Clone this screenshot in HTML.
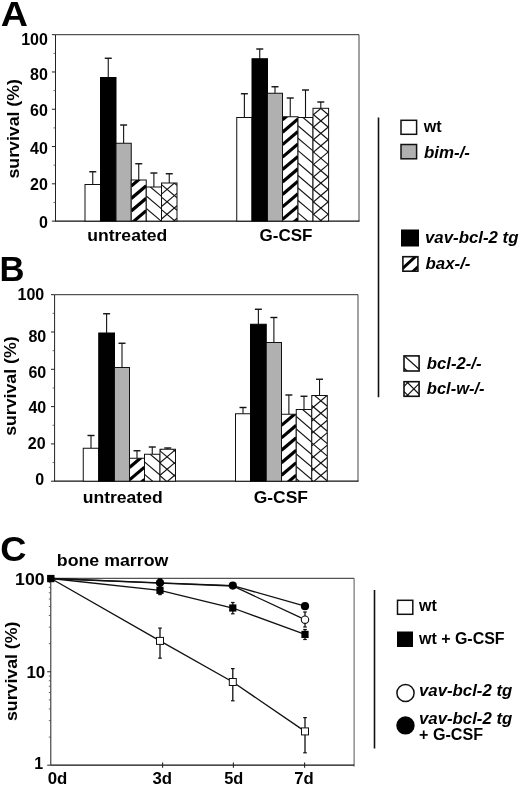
<!DOCTYPE html>
<html lang="en"><head><meta charset="utf-8"><title>Figure</title>
<style>html,body{margin:0;padding:0;background:#fff}svg{display:block;will-change:transform;opacity:.999}</style>
</head><body>
<svg width="520" height="787" viewBox="0 0 520 787" font-family="Liberation Sans, Arial, Helvetica, sans-serif" font-weight="bold" fill="#000">
<rect width="520" height="787" fill="#fff"/>
<line x1="55.50" y1="34.70" x2="359.00" y2="34.70" stroke="#2a2a2a" stroke-width="1" />
<line x1="359.00" y1="34.70" x2="359.00" y2="221.10" stroke="#444" stroke-width="1" />
<line x1="55.50" y1="34.70" x2="55.50" y2="221.10" stroke="#222" stroke-width="1" />
<line x1="55.00" y1="221.10" x2="359.50" y2="221.10" stroke="#111" stroke-width="1.2" />
<line x1="51.90" y1="221.10" x2="55.50" y2="221.10" stroke="#222" stroke-width="1" />
<line x1="53.50" y1="202.46" x2="55.50" y2="202.46" stroke="#444" stroke-width="0.8" />
<line x1="51.90" y1="183.82" x2="55.50" y2="183.82" stroke="#222" stroke-width="1" />
<line x1="53.50" y1="165.18" x2="55.50" y2="165.18" stroke="#444" stroke-width="0.8" />
<line x1="51.90" y1="146.54" x2="55.50" y2="146.54" stroke="#222" stroke-width="1" />
<line x1="53.50" y1="127.90" x2="55.50" y2="127.90" stroke="#444" stroke-width="0.8" />
<line x1="51.90" y1="109.26" x2="55.50" y2="109.26" stroke="#222" stroke-width="1" />
<line x1="53.50" y1="90.62" x2="55.50" y2="90.62" stroke="#444" stroke-width="0.8" />
<line x1="51.90" y1="71.98" x2="55.50" y2="71.98" stroke="#222" stroke-width="1" />
<line x1="53.50" y1="53.34" x2="55.50" y2="53.34" stroke="#444" stroke-width="0.8" />
<line x1="51.90" y1="34.70" x2="55.50" y2="34.70" stroke="#222" stroke-width="1" />
<text x="47.90" y="44.85" font-size="16" text-anchor="end" >100</text>
<text x="47.90" y="79.85" font-size="16" text-anchor="end" >80</text>
<text x="47.90" y="115.50" font-size="16" text-anchor="end" >60</text>
<text x="47.90" y="154.20" font-size="16" text-anchor="end" >40</text>
<text x="47.90" y="190.10" font-size="16" text-anchor="end" >20</text>
<text x="47.90" y="227.80" font-size="16" text-anchor="end" >0</text>
<text x="0.00" y="0.00" font-size="17" text-anchor="middle" textLength="99.5" lengthAdjust="spacingAndGlyphs" transform="translate(19.1,128.8) rotate(-90)">survival (%)</text>
<line x1="92.75" y1="171.75" x2="92.75" y2="184.50" stroke="#111" stroke-width="1.1" />
<line x1="89.25" y1="171.75" x2="96.25" y2="171.75" stroke="#111" stroke-width="1.4" />
<rect x="85.00" y="184.50" width="15.50" height="36.60" fill="#fff" stroke="#111" stroke-width="1"/>
<line x1="108.25" y1="58.25" x2="108.25" y2="77.50" stroke="#111" stroke-width="1.1" />
<line x1="104.75" y1="58.25" x2="111.75" y2="58.25" stroke="#111" stroke-width="1.4" />
<rect x="100.50" y="77.50" width="15.50" height="143.60" fill="#000" stroke="#000" stroke-width="1"/>
<line x1="123.62" y1="125.00" x2="123.62" y2="143.25" stroke="#111" stroke-width="1.1" />
<line x1="120.12" y1="125.00" x2="127.12" y2="125.00" stroke="#111" stroke-width="1.4" />
<rect x="116.00" y="143.25" width="15.25" height="77.85" fill="#b0b0b0" stroke="#111" stroke-width="1"/>
<line x1="138.75" y1="163.75" x2="138.75" y2="180.00" stroke="#111" stroke-width="1.1" />
<line x1="135.25" y1="163.75" x2="142.25" y2="163.75" stroke="#111" stroke-width="1.4" />
<clipPath id="c1"><rect x="131.25" y="180.00" width="15.00" height="41.10"/></clipPath>
<rect x="131.25" y="180.00" width="15.00" height="41.10" fill="#fff"/>
<g clip-path="url(#c1)">
<line x1="131.25" y1="148.70" x2="146.25" y2="135.95" stroke="#000" stroke-width="3.2" />
<line x1="131.25" y1="161.15" x2="146.25" y2="148.40" stroke="#000" stroke-width="3.2" />
<line x1="131.25" y1="173.60" x2="146.25" y2="160.85" stroke="#000" stroke-width="3.2" />
<line x1="131.25" y1="186.05" x2="146.25" y2="173.30" stroke="#000" stroke-width="3.2" />
<line x1="131.25" y1="198.50" x2="146.25" y2="185.75" stroke="#000" stroke-width="3.2" />
<line x1="131.25" y1="210.95" x2="146.25" y2="198.20" stroke="#000" stroke-width="3.2" />
<line x1="131.25" y1="223.40" x2="146.25" y2="210.65" stroke="#000" stroke-width="3.2" />
<line x1="131.25" y1="235.85" x2="146.25" y2="223.10" stroke="#000" stroke-width="3.2" />
<line x1="131.25" y1="248.30" x2="146.25" y2="235.55" stroke="#000" stroke-width="3.2" />
</g>
<rect x="131.25" y="180.00" width="15.00" height="41.10" fill="none" stroke="#111" stroke-width="1"/>
<line x1="153.88" y1="173.00" x2="153.88" y2="187.00" stroke="#111" stroke-width="1.1" />
<line x1="150.38" y1="173.00" x2="157.38" y2="173.00" stroke="#111" stroke-width="1.4" />
<clipPath id="c2"><rect x="146.25" y="187.00" width="15.25" height="34.10"/></clipPath>
<rect x="146.25" y="187.00" width="15.25" height="34.10" fill="#fff"/>
<g clip-path="url(#c2)">
<line x1="146.25" y1="158.56" x2="161.50" y2="171.53" stroke="#111" stroke-width="1.15" />
<line x1="146.25" y1="171.01" x2="161.50" y2="183.97" stroke="#111" stroke-width="1.15" />
<line x1="146.25" y1="183.46" x2="161.50" y2="196.43" stroke="#111" stroke-width="1.15" />
<line x1="146.25" y1="195.91" x2="161.50" y2="208.88" stroke="#111" stroke-width="1.15" />
<line x1="146.25" y1="208.36" x2="161.50" y2="221.33" stroke="#111" stroke-width="1.15" />
<line x1="146.25" y1="220.81" x2="161.50" y2="233.78" stroke="#111" stroke-width="1.15" />
<line x1="146.25" y1="233.26" x2="161.50" y2="246.22" stroke="#111" stroke-width="1.15" />
<line x1="146.25" y1="245.71" x2="161.50" y2="258.68" stroke="#111" stroke-width="1.15" />
</g>
<rect x="146.25" y="187.00" width="15.25" height="34.10" fill="none" stroke="#111" stroke-width="1"/>
<line x1="169.25" y1="173.75" x2="169.25" y2="183.00" stroke="#111" stroke-width="1.1" />
<line x1="165.75" y1="173.75" x2="172.75" y2="173.75" stroke="#111" stroke-width="1.4" />
<clipPath id="c3"><rect x="161.50" y="183.00" width="15.50" height="38.10"/></clipPath>
<rect x="161.50" y="183.00" width="15.50" height="38.10" fill="#fff"/>
<g clip-path="url(#c3)">
<line x1="161.50" y1="156.72" x2="177.00" y2="143.55" stroke="#111" stroke-width="1.15" />
<line x1="161.50" y1="169.17" x2="177.00" y2="156.00" stroke="#111" stroke-width="1.15" />
<line x1="161.50" y1="181.62" x2="177.00" y2="168.45" stroke="#111" stroke-width="1.15" />
<line x1="161.50" y1="194.07" x2="177.00" y2="180.90" stroke="#111" stroke-width="1.15" />
<line x1="161.50" y1="206.52" x2="177.00" y2="193.35" stroke="#111" stroke-width="1.15" />
<line x1="161.50" y1="218.97" x2="177.00" y2="205.80" stroke="#111" stroke-width="1.15" />
<line x1="161.50" y1="231.42" x2="177.00" y2="218.25" stroke="#111" stroke-width="1.15" />
<line x1="161.50" y1="243.87" x2="177.00" y2="230.70" stroke="#111" stroke-width="1.15" />
<line x1="161.50" y1="159.77" x2="177.00" y2="172.95" stroke="#111" stroke-width="1.15" />
<line x1="161.50" y1="172.22" x2="177.00" y2="185.40" stroke="#111" stroke-width="1.15" />
<line x1="161.50" y1="184.68" x2="177.00" y2="197.85" stroke="#111" stroke-width="1.15" />
<line x1="161.50" y1="197.12" x2="177.00" y2="210.30" stroke="#111" stroke-width="1.15" />
<line x1="161.50" y1="209.57" x2="177.00" y2="222.75" stroke="#111" stroke-width="1.15" />
<line x1="161.50" y1="222.02" x2="177.00" y2="235.20" stroke="#111" stroke-width="1.15" />
<line x1="161.50" y1="234.47" x2="177.00" y2="247.65" stroke="#111" stroke-width="1.15" />
<line x1="161.50" y1="246.93" x2="177.00" y2="260.10" stroke="#111" stroke-width="1.15" />
</g>
<rect x="161.50" y="183.00" width="15.50" height="38.10" fill="none" stroke="#111" stroke-width="1"/>
<line x1="244.38" y1="93.75" x2="244.38" y2="117.50" stroke="#111" stroke-width="1.1" />
<line x1="240.88" y1="93.75" x2="247.88" y2="93.75" stroke="#111" stroke-width="1.4" />
<rect x="236.75" y="117.50" width="15.25" height="103.60" fill="#fff" stroke="#111" stroke-width="1"/>
<line x1="259.75" y1="49.00" x2="259.75" y2="58.75" stroke="#111" stroke-width="1.1" />
<line x1="256.25" y1="49.00" x2="263.25" y2="49.00" stroke="#111" stroke-width="1.4" />
<rect x="252.00" y="58.75" width="15.50" height="162.35" fill="#000" stroke="#000" stroke-width="1"/>
<line x1="275.00" y1="86.75" x2="275.00" y2="93.25" stroke="#111" stroke-width="1.1" />
<line x1="271.50" y1="86.75" x2="278.50" y2="86.75" stroke="#111" stroke-width="1.4" />
<rect x="267.50" y="93.25" width="15.00" height="127.85" fill="#b0b0b0" stroke="#111" stroke-width="1"/>
<line x1="290.25" y1="98.00" x2="290.25" y2="116.75" stroke="#111" stroke-width="1.1" />
<line x1="286.75" y1="98.00" x2="293.75" y2="98.00" stroke="#111" stroke-width="1.4" />
<clipPath id="c4"><rect x="282.50" y="116.75" width="15.50" height="104.35"/></clipPath>
<rect x="282.50" y="116.75" width="15.50" height="104.35" fill="#fff"/>
<g clip-path="url(#c4)">
<line x1="282.50" y1="94.83" x2="298.00" y2="81.66" stroke="#000" stroke-width="3.2" />
<line x1="282.50" y1="107.28" x2="298.00" y2="94.11" stroke="#000" stroke-width="3.2" />
<line x1="282.50" y1="119.73" x2="298.00" y2="106.56" stroke="#000" stroke-width="3.2" />
<line x1="282.50" y1="132.18" x2="298.00" y2="119.01" stroke="#000" stroke-width="3.2" />
<line x1="282.50" y1="144.63" x2="298.00" y2="131.46" stroke="#000" stroke-width="3.2" />
<line x1="282.50" y1="157.08" x2="298.00" y2="143.91" stroke="#000" stroke-width="3.2" />
<line x1="282.50" y1="169.53" x2="298.00" y2="156.36" stroke="#000" stroke-width="3.2" />
<line x1="282.50" y1="181.98" x2="298.00" y2="168.81" stroke="#000" stroke-width="3.2" />
<line x1="282.50" y1="194.43" x2="298.00" y2="181.26" stroke="#000" stroke-width="3.2" />
<line x1="282.50" y1="206.88" x2="298.00" y2="193.71" stroke="#000" stroke-width="3.2" />
<line x1="282.50" y1="219.33" x2="298.00" y2="206.16" stroke="#000" stroke-width="3.2" />
<line x1="282.50" y1="231.78" x2="298.00" y2="218.61" stroke="#000" stroke-width="3.2" />
<line x1="282.50" y1="244.23" x2="298.00" y2="231.06" stroke="#000" stroke-width="3.2" />
</g>
<rect x="282.50" y="116.75" width="15.50" height="104.35" fill="none" stroke="#111" stroke-width="1"/>
<line x1="305.50" y1="90.00" x2="305.50" y2="117.50" stroke="#111" stroke-width="1.1" />
<line x1="302.00" y1="90.00" x2="309.00" y2="90.00" stroke="#111" stroke-width="1.4" />
<clipPath id="c5"><rect x="298.00" y="117.50" width="15.00" height="103.60"/></clipPath>
<rect x="298.00" y="117.50" width="15.00" height="103.60" fill="#fff"/>
<g clip-path="url(#c5)">
<line x1="298.00" y1="88.35" x2="313.00" y2="101.10" stroke="#111" stroke-width="1.15" />
<line x1="298.00" y1="100.80" x2="313.00" y2="113.55" stroke="#111" stroke-width="1.15" />
<line x1="298.00" y1="113.25" x2="313.00" y2="126.00" stroke="#111" stroke-width="1.15" />
<line x1="298.00" y1="125.70" x2="313.00" y2="138.45" stroke="#111" stroke-width="1.15" />
<line x1="298.00" y1="138.15" x2="313.00" y2="150.90" stroke="#111" stroke-width="1.15" />
<line x1="298.00" y1="150.60" x2="313.00" y2="163.35" stroke="#111" stroke-width="1.15" />
<line x1="298.00" y1="163.05" x2="313.00" y2="175.80" stroke="#111" stroke-width="1.15" />
<line x1="298.00" y1="175.50" x2="313.00" y2="188.25" stroke="#111" stroke-width="1.15" />
<line x1="298.00" y1="187.95" x2="313.00" y2="200.70" stroke="#111" stroke-width="1.15" />
<line x1="298.00" y1="200.40" x2="313.00" y2="213.15" stroke="#111" stroke-width="1.15" />
<line x1="298.00" y1="212.85" x2="313.00" y2="225.60" stroke="#111" stroke-width="1.15" />
<line x1="298.00" y1="225.30" x2="313.00" y2="238.05" stroke="#111" stroke-width="1.15" />
<line x1="298.00" y1="237.75" x2="313.00" y2="250.50" stroke="#111" stroke-width="1.15" />
<line x1="298.00" y1="250.20" x2="313.00" y2="262.95" stroke="#111" stroke-width="1.15" />
</g>
<rect x="298.00" y="117.50" width="15.00" height="103.60" fill="none" stroke="#111" stroke-width="1"/>
<line x1="320.80" y1="102.00" x2="320.80" y2="108.30" stroke="#111" stroke-width="1.1" />
<line x1="317.30" y1="102.00" x2="324.30" y2="102.00" stroke="#111" stroke-width="1.4" />
<clipPath id="c6"><rect x="313.00" y="108.30" width="15.60" height="112.80"/></clipPath>
<rect x="313.00" y="108.30" width="15.60" height="112.80" fill="#fff"/>
<g clip-path="url(#c6)">
<line x1="313.00" y1="77.75" x2="328.60" y2="64.49" stroke="#111" stroke-width="1.15" />
<line x1="313.00" y1="90.20" x2="328.60" y2="76.94" stroke="#111" stroke-width="1.15" />
<line x1="313.00" y1="102.65" x2="328.60" y2="89.39" stroke="#111" stroke-width="1.15" />
<line x1="313.00" y1="115.10" x2="328.60" y2="101.84" stroke="#111" stroke-width="1.15" />
<line x1="313.00" y1="127.55" x2="328.60" y2="114.29" stroke="#111" stroke-width="1.15" />
<line x1="313.00" y1="140.00" x2="328.60" y2="126.74" stroke="#111" stroke-width="1.15" />
<line x1="313.00" y1="152.45" x2="328.60" y2="139.19" stroke="#111" stroke-width="1.15" />
<line x1="313.00" y1="164.90" x2="328.60" y2="151.64" stroke="#111" stroke-width="1.15" />
<line x1="313.00" y1="177.35" x2="328.60" y2="164.09" stroke="#111" stroke-width="1.15" />
<line x1="313.00" y1="189.80" x2="328.60" y2="176.54" stroke="#111" stroke-width="1.15" />
<line x1="313.00" y1="202.25" x2="328.60" y2="188.99" stroke="#111" stroke-width="1.15" />
<line x1="313.00" y1="214.70" x2="328.60" y2="201.44" stroke="#111" stroke-width="1.15" />
<line x1="313.00" y1="227.15" x2="328.60" y2="213.89" stroke="#111" stroke-width="1.15" />
<line x1="313.00" y1="239.60" x2="328.60" y2="226.34" stroke="#111" stroke-width="1.15" />
<line x1="313.00" y1="252.05" x2="328.60" y2="238.79" stroke="#111" stroke-width="1.15" />
<line x1="313.00" y1="76.90" x2="328.60" y2="90.16" stroke="#111" stroke-width="1.15" />
<line x1="313.00" y1="89.35" x2="328.60" y2="102.61" stroke="#111" stroke-width="1.15" />
<line x1="313.00" y1="101.80" x2="328.60" y2="115.06" stroke="#111" stroke-width="1.15" />
<line x1="313.00" y1="114.25" x2="328.60" y2="127.51" stroke="#111" stroke-width="1.15" />
<line x1="313.00" y1="126.70" x2="328.60" y2="139.96" stroke="#111" stroke-width="1.15" />
<line x1="313.00" y1="139.15" x2="328.60" y2="152.41" stroke="#111" stroke-width="1.15" />
<line x1="313.00" y1="151.60" x2="328.60" y2="164.86" stroke="#111" stroke-width="1.15" />
<line x1="313.00" y1="164.05" x2="328.60" y2="177.31" stroke="#111" stroke-width="1.15" />
<line x1="313.00" y1="176.50" x2="328.60" y2="189.76" stroke="#111" stroke-width="1.15" />
<line x1="313.00" y1="188.95" x2="328.60" y2="202.21" stroke="#111" stroke-width="1.15" />
<line x1="313.00" y1="201.40" x2="328.60" y2="214.66" stroke="#111" stroke-width="1.15" />
<line x1="313.00" y1="213.85" x2="328.60" y2="227.11" stroke="#111" stroke-width="1.15" />
<line x1="313.00" y1="226.30" x2="328.60" y2="239.56" stroke="#111" stroke-width="1.15" />
<line x1="313.00" y1="238.75" x2="328.60" y2="252.01" stroke="#111" stroke-width="1.15" />
<line x1="313.00" y1="251.20" x2="328.60" y2="264.46" stroke="#111" stroke-width="1.15" />
</g>
<rect x="313.00" y="108.30" width="15.60" height="112.80" fill="none" stroke="#111" stroke-width="1"/>
<text x="87.20" y="241.20" font-size="16.5" text-anchor="start" textLength="80.1" lengthAdjust="spacingAndGlyphs" >untreated</text>
<text x="259.50" y="241.20" font-size="16.5" text-anchor="start" textLength="53.0" lengthAdjust="spacingAndGlyphs" >G-CSF</text>
<text x="0.70" y="26.20" font-size="35.6" text-anchor="start" textLength="27.2" lengthAdjust="spacingAndGlyphs" >A</text>
<line x1="54.60" y1="294.70" x2="358.00" y2="294.70" stroke="#2a2a2a" stroke-width="1" />
<line x1="358.00" y1="294.70" x2="358.00" y2="481.20" stroke="#444" stroke-width="1" />
<line x1="54.60" y1="294.70" x2="54.60" y2="481.20" stroke="#222" stroke-width="1" />
<line x1="54.10" y1="481.20" x2="358.50" y2="481.20" stroke="#111" stroke-width="1.2" />
<line x1="51.00" y1="481.20" x2="54.60" y2="481.20" stroke="#222" stroke-width="1" />
<line x1="52.60" y1="462.55" x2="54.60" y2="462.55" stroke="#444" stroke-width="0.8" />
<line x1="51.00" y1="443.90" x2="54.60" y2="443.90" stroke="#222" stroke-width="1" />
<line x1="52.60" y1="425.25" x2="54.60" y2="425.25" stroke="#444" stroke-width="0.8" />
<line x1="51.00" y1="406.60" x2="54.60" y2="406.60" stroke="#222" stroke-width="1" />
<line x1="52.60" y1="387.95" x2="54.60" y2="387.95" stroke="#444" stroke-width="0.8" />
<line x1="51.00" y1="369.30" x2="54.60" y2="369.30" stroke="#222" stroke-width="1" />
<line x1="52.60" y1="350.65" x2="54.60" y2="350.65" stroke="#444" stroke-width="0.8" />
<line x1="51.00" y1="332.00" x2="54.60" y2="332.00" stroke="#222" stroke-width="1" />
<line x1="52.60" y1="313.35" x2="54.60" y2="313.35" stroke="#444" stroke-width="0.8" />
<line x1="51.00" y1="294.70" x2="54.60" y2="294.70" stroke="#222" stroke-width="1" />
<text x="44.20" y="300.10" font-size="16" text-anchor="end" >100</text>
<text x="46.20" y="341.50" font-size="16" text-anchor="end" >80</text>
<text x="46.20" y="377.60" font-size="16" text-anchor="end" >60</text>
<text x="46.20" y="413.00" font-size="16" text-anchor="end" >40</text>
<text x="45.60" y="448.70" font-size="16" text-anchor="end" >20</text>
<text x="44.20" y="484.60" font-size="16" text-anchor="end" >0</text>
<text x="0.00" y="0.00" font-size="17" text-anchor="middle" textLength="99.5" lengthAdjust="spacingAndGlyphs" transform="translate(16.0,386.1) rotate(-90)">survival (%)</text>
<line x1="91.00" y1="435.50" x2="91.00" y2="448.25" stroke="#111" stroke-width="1.1" />
<line x1="87.50" y1="435.50" x2="94.50" y2="435.50" stroke="#111" stroke-width="1.4" />
<rect x="83.25" y="448.25" width="15.50" height="32.95" fill="#fff" stroke="#111" stroke-width="1"/>
<line x1="106.62" y1="313.75" x2="106.62" y2="333.00" stroke="#111" stroke-width="1.1" />
<line x1="103.12" y1="313.75" x2="110.12" y2="313.75" stroke="#111" stroke-width="1.4" />
<rect x="98.75" y="333.00" width="15.75" height="148.20" fill="#000" stroke="#000" stroke-width="1"/>
<line x1="122.00" y1="343.25" x2="122.00" y2="367.50" stroke="#111" stroke-width="1.1" />
<line x1="118.50" y1="343.25" x2="125.50" y2="343.25" stroke="#111" stroke-width="1.4" />
<rect x="114.50" y="367.50" width="15.00" height="113.70" fill="#b0b0b0" stroke="#111" stroke-width="1"/>
<line x1="137.00" y1="450.75" x2="137.00" y2="458.25" stroke="#111" stroke-width="1.1" />
<line x1="133.50" y1="450.75" x2="140.50" y2="450.75" stroke="#111" stroke-width="1.4" />
<clipPath id="c7"><rect x="129.50" y="458.25" width="15.00" height="22.95"/></clipPath>
<rect x="129.50" y="458.25" width="15.00" height="22.95" fill="#fff"/>
<g clip-path="url(#c7)">
<line x1="129.50" y1="430.09" x2="144.50" y2="417.34" stroke="#000" stroke-width="3.2" />
<line x1="129.50" y1="442.54" x2="144.50" y2="429.79" stroke="#000" stroke-width="3.2" />
<line x1="129.50" y1="454.99" x2="144.50" y2="442.24" stroke="#000" stroke-width="3.2" />
<line x1="129.50" y1="467.44" x2="144.50" y2="454.69" stroke="#000" stroke-width="3.2" />
<line x1="129.50" y1="479.89" x2="144.50" y2="467.14" stroke="#000" stroke-width="3.2" />
<line x1="129.50" y1="492.34" x2="144.50" y2="479.59" stroke="#000" stroke-width="3.2" />
<line x1="129.50" y1="504.79" x2="144.50" y2="492.04" stroke="#000" stroke-width="3.2" />
</g>
<rect x="129.50" y="458.25" width="15.00" height="22.95" fill="none" stroke="#111" stroke-width="1"/>
<line x1="152.25" y1="447.00" x2="152.25" y2="454.25" stroke="#111" stroke-width="1.1" />
<line x1="148.75" y1="447.00" x2="155.75" y2="447.00" stroke="#111" stroke-width="1.4" />
<clipPath id="c8"><rect x="144.50" y="454.25" width="15.50" height="26.95"/></clipPath>
<rect x="144.50" y="454.25" width="15.50" height="26.95" fill="#fff"/>
<g clip-path="url(#c8)">
<line x1="144.50" y1="424.52" x2="160.00" y2="437.70" stroke="#111" stroke-width="1.15" />
<line x1="144.50" y1="436.98" x2="160.00" y2="450.15" stroke="#111" stroke-width="1.15" />
<line x1="144.50" y1="449.43" x2="160.00" y2="462.60" stroke="#111" stroke-width="1.15" />
<line x1="144.50" y1="461.88" x2="160.00" y2="475.05" stroke="#111" stroke-width="1.15" />
<line x1="144.50" y1="474.32" x2="160.00" y2="487.50" stroke="#111" stroke-width="1.15" />
<line x1="144.50" y1="486.77" x2="160.00" y2="499.95" stroke="#111" stroke-width="1.15" />
<line x1="144.50" y1="499.22" x2="160.00" y2="512.40" stroke="#111" stroke-width="1.15" />
<line x1="144.50" y1="511.67" x2="160.00" y2="524.85" stroke="#111" stroke-width="1.15" />
</g>
<rect x="144.50" y="454.25" width="15.50" height="26.95" fill="none" stroke="#111" stroke-width="1"/>
<line x1="167.75" y1="448.00" x2="167.75" y2="449.25" stroke="#111" stroke-width="1.1" />
<line x1="164.25" y1="448.00" x2="171.25" y2="448.00" stroke="#111" stroke-width="1.4" />
<clipPath id="c9"><rect x="160.00" y="449.25" width="15.50" height="31.95"/></clipPath>
<rect x="160.00" y="449.25" width="15.50" height="31.95" fill="#fff"/>
<g clip-path="url(#c9)">
<line x1="160.00" y1="425.45" x2="175.50" y2="412.28" stroke="#111" stroke-width="1.15" />
<line x1="160.00" y1="437.90" x2="175.50" y2="424.73" stroke="#111" stroke-width="1.15" />
<line x1="160.00" y1="450.35" x2="175.50" y2="437.18" stroke="#111" stroke-width="1.15" />
<line x1="160.00" y1="462.80" x2="175.50" y2="449.63" stroke="#111" stroke-width="1.15" />
<line x1="160.00" y1="475.25" x2="175.50" y2="462.08" stroke="#111" stroke-width="1.15" />
<line x1="160.00" y1="487.70" x2="175.50" y2="474.53" stroke="#111" stroke-width="1.15" />
<line x1="160.00" y1="500.15" x2="175.50" y2="486.98" stroke="#111" stroke-width="1.15" />
<line x1="160.00" y1="512.60" x2="175.50" y2="499.43" stroke="#111" stroke-width="1.15" />
<line x1="160.00" y1="425.95" x2="175.50" y2="439.12" stroke="#111" stroke-width="1.15" />
<line x1="160.00" y1="438.40" x2="175.50" y2="451.57" stroke="#111" stroke-width="1.15" />
<line x1="160.00" y1="450.85" x2="175.50" y2="464.03" stroke="#111" stroke-width="1.15" />
<line x1="160.00" y1="463.30" x2="175.50" y2="476.48" stroke="#111" stroke-width="1.15" />
<line x1="160.00" y1="475.75" x2="175.50" y2="488.93" stroke="#111" stroke-width="1.15" />
<line x1="160.00" y1="488.20" x2="175.50" y2="501.38" stroke="#111" stroke-width="1.15" />
<line x1="160.00" y1="500.65" x2="175.50" y2="513.82" stroke="#111" stroke-width="1.15" />
<line x1="160.00" y1="513.10" x2="175.50" y2="526.27" stroke="#111" stroke-width="1.15" />
</g>
<rect x="160.00" y="449.25" width="15.50" height="31.95" fill="none" stroke="#111" stroke-width="1"/>
<line x1="243.00" y1="407.50" x2="243.00" y2="413.75" stroke="#111" stroke-width="1.1" />
<line x1="239.50" y1="407.50" x2="246.50" y2="407.50" stroke="#111" stroke-width="1.4" />
<rect x="235.50" y="413.75" width="15.00" height="67.45" fill="#fff" stroke="#111" stroke-width="1"/>
<line x1="258.38" y1="309.25" x2="258.38" y2="324.25" stroke="#111" stroke-width="1.1" />
<line x1="254.88" y1="309.25" x2="261.88" y2="309.25" stroke="#111" stroke-width="1.4" />
<rect x="250.50" y="324.25" width="15.75" height="156.95" fill="#000" stroke="#000" stroke-width="1"/>
<line x1="273.88" y1="317.50" x2="273.88" y2="342.50" stroke="#111" stroke-width="1.1" />
<line x1="270.38" y1="317.50" x2="277.38" y2="317.50" stroke="#111" stroke-width="1.4" />
<rect x="266.25" y="342.50" width="15.25" height="138.70" fill="#b0b0b0" stroke="#111" stroke-width="1"/>
<line x1="288.88" y1="395.00" x2="288.88" y2="414.25" stroke="#111" stroke-width="1.1" />
<line x1="285.38" y1="395.00" x2="292.38" y2="395.00" stroke="#111" stroke-width="1.4" />
<clipPath id="c10"><rect x="281.50" y="414.25" width="14.75" height="66.95"/></clipPath>
<rect x="281.50" y="414.25" width="14.75" height="66.95" fill="#fff"/>
<g clip-path="url(#c10)">
<line x1="281.50" y1="388.04" x2="296.25" y2="375.50" stroke="#000" stroke-width="3.2" />
<line x1="281.50" y1="400.49" x2="296.25" y2="387.95" stroke="#000" stroke-width="3.2" />
<line x1="281.50" y1="412.94" x2="296.25" y2="400.40" stroke="#000" stroke-width="3.2" />
<line x1="281.50" y1="425.39" x2="296.25" y2="412.85" stroke="#000" stroke-width="3.2" />
<line x1="281.50" y1="437.84" x2="296.25" y2="425.30" stroke="#000" stroke-width="3.2" />
<line x1="281.50" y1="450.29" x2="296.25" y2="437.75" stroke="#000" stroke-width="3.2" />
<line x1="281.50" y1="462.74" x2="296.25" y2="450.20" stroke="#000" stroke-width="3.2" />
<line x1="281.50" y1="475.19" x2="296.25" y2="462.65" stroke="#000" stroke-width="3.2" />
<line x1="281.50" y1="487.64" x2="296.25" y2="475.10" stroke="#000" stroke-width="3.2" />
<line x1="281.50" y1="500.09" x2="296.25" y2="487.55" stroke="#000" stroke-width="3.2" />
<line x1="281.50" y1="512.54" x2="296.25" y2="500.00" stroke="#000" stroke-width="3.2" />
</g>
<rect x="281.50" y="414.25" width="14.75" height="66.95" fill="none" stroke="#111" stroke-width="1"/>
<line x1="304.00" y1="396.25" x2="304.00" y2="409.50" stroke="#111" stroke-width="1.1" />
<line x1="300.50" y1="396.25" x2="307.50" y2="396.25" stroke="#111" stroke-width="1.4" />
<clipPath id="c11"><rect x="296.25" y="409.50" width="15.50" height="71.70"/></clipPath>
<rect x="296.25" y="409.50" width="15.50" height="71.70" fill="#fff"/>
<g clip-path="url(#c11)">
<line x1="296.25" y1="379.21" x2="311.75" y2="392.39" stroke="#111" stroke-width="1.15" />
<line x1="296.25" y1="391.66" x2="311.75" y2="404.84" stroke="#111" stroke-width="1.15" />
<line x1="296.25" y1="404.11" x2="311.75" y2="417.29" stroke="#111" stroke-width="1.15" />
<line x1="296.25" y1="416.56" x2="311.75" y2="429.74" stroke="#111" stroke-width="1.15" />
<line x1="296.25" y1="429.01" x2="311.75" y2="442.19" stroke="#111" stroke-width="1.15" />
<line x1="296.25" y1="441.46" x2="311.75" y2="454.64" stroke="#111" stroke-width="1.15" />
<line x1="296.25" y1="453.91" x2="311.75" y2="467.09" stroke="#111" stroke-width="1.15" />
<line x1="296.25" y1="466.36" x2="311.75" y2="479.54" stroke="#111" stroke-width="1.15" />
<line x1="296.25" y1="478.81" x2="311.75" y2="491.99" stroke="#111" stroke-width="1.15" />
<line x1="296.25" y1="491.26" x2="311.75" y2="504.44" stroke="#111" stroke-width="1.15" />
<line x1="296.25" y1="503.71" x2="311.75" y2="516.89" stroke="#111" stroke-width="1.15" />
</g>
<rect x="296.25" y="409.50" width="15.50" height="71.70" fill="none" stroke="#111" stroke-width="1"/>
<line x1="319.52" y1="379.25" x2="319.52" y2="395.50" stroke="#111" stroke-width="1.1" />
<line x1="316.02" y1="379.25" x2="323.02" y2="379.25" stroke="#111" stroke-width="1.4" />
<clipPath id="c12"><rect x="311.75" y="395.50" width="15.55" height="85.70"/></clipPath>
<rect x="311.75" y="395.50" width="15.55" height="85.70" fill="#fff"/>
<g clip-path="url(#c12)">
<line x1="311.75" y1="371.16" x2="327.30" y2="357.94" stroke="#111" stroke-width="1.15" />
<line x1="311.75" y1="383.61" x2="327.30" y2="370.40" stroke="#111" stroke-width="1.15" />
<line x1="311.75" y1="396.06" x2="327.30" y2="382.85" stroke="#111" stroke-width="1.15" />
<line x1="311.75" y1="408.51" x2="327.30" y2="395.30" stroke="#111" stroke-width="1.15" />
<line x1="311.75" y1="420.96" x2="327.30" y2="407.75" stroke="#111" stroke-width="1.15" />
<line x1="311.75" y1="433.41" x2="327.30" y2="420.19" stroke="#111" stroke-width="1.15" />
<line x1="311.75" y1="445.86" x2="327.30" y2="432.65" stroke="#111" stroke-width="1.15" />
<line x1="311.75" y1="458.31" x2="327.30" y2="445.10" stroke="#111" stroke-width="1.15" />
<line x1="311.75" y1="470.76" x2="327.30" y2="457.55" stroke="#111" stroke-width="1.15" />
<line x1="311.75" y1="483.21" x2="327.30" y2="470.00" stroke="#111" stroke-width="1.15" />
<line x1="311.75" y1="495.66" x2="327.30" y2="482.44" stroke="#111" stroke-width="1.15" />
<line x1="311.75" y1="508.11" x2="327.30" y2="494.89" stroke="#111" stroke-width="1.15" />
<line x1="311.75" y1="368.19" x2="327.30" y2="381.41" stroke="#111" stroke-width="1.15" />
<line x1="311.75" y1="380.64" x2="327.30" y2="393.86" stroke="#111" stroke-width="1.15" />
<line x1="311.75" y1="393.09" x2="327.30" y2="406.31" stroke="#111" stroke-width="1.15" />
<line x1="311.75" y1="405.54" x2="327.30" y2="418.76" stroke="#111" stroke-width="1.15" />
<line x1="311.75" y1="417.99" x2="327.30" y2="431.21" stroke="#111" stroke-width="1.15" />
<line x1="311.75" y1="430.44" x2="327.30" y2="443.66" stroke="#111" stroke-width="1.15" />
<line x1="311.75" y1="442.89" x2="327.30" y2="456.11" stroke="#111" stroke-width="1.15" />
<line x1="311.75" y1="455.34" x2="327.30" y2="468.56" stroke="#111" stroke-width="1.15" />
<line x1="311.75" y1="467.79" x2="327.30" y2="481.01" stroke="#111" stroke-width="1.15" />
<line x1="311.75" y1="480.24" x2="327.30" y2="493.46" stroke="#111" stroke-width="1.15" />
<line x1="311.75" y1="492.69" x2="327.30" y2="505.91" stroke="#111" stroke-width="1.15" />
<line x1="311.75" y1="505.14" x2="327.30" y2="518.36" stroke="#111" stroke-width="1.15" />
</g>
<rect x="311.75" y="395.50" width="15.55" height="85.70" fill="none" stroke="#111" stroke-width="1"/>
<text x="82.70" y="503.00" font-size="16.5" text-anchor="start" textLength="80.0" lengthAdjust="spacingAndGlyphs" >untreated</text>
<text x="253.75" y="503.00" font-size="16.5" text-anchor="start" textLength="54.2" lengthAdjust="spacingAndGlyphs" >G-CSF</text>
<text x="-0.60" y="281.00" font-size="35.6" text-anchor="start" textLength="25.0" lengthAdjust="spacingAndGlyphs" >B</text>
<line x1="378.50" y1="117.50" x2="378.50" y2="397.30" stroke="#111" stroke-width="1.6" />
<rect x="401" y="120.3" width="15.6" height="14" fill="#fff" stroke="#111" stroke-width="1.5"/>
<text x="423.70" y="131.70" font-size="16" text-anchor="start" textLength="17.8" lengthAdjust="spacingAndGlyphs" >wt</text>
<rect x="401" y="144.5" width="15.6" height="14.3" fill="#b0b0b0" stroke="#111" stroke-width="1.5"/>
<text x="424.00" y="157.50" font-size="16.5" text-anchor="start" font-style="italic" textLength="46.0" lengthAdjust="spacingAndGlyphs" >bim-/-</text>
<rect x="401.5" y="230" width="17" height="16" fill="#000" stroke="#000" stroke-width="1"/>
<text x="425.00" y="243.00" font-size="16.5" text-anchor="start" font-style="italic" textLength="93.5" lengthAdjust="spacingAndGlyphs" >vav-bcl-2 tg</text>
<clipPath id="c13"><rect x="402.9" y="256.7" width="15" height="14.5"/></clipPath>
<rect x="402.9" y="256.7" width="15" height="14.5" fill="#fff"/>
<g clip-path="url(#c13)">
<line x1="400.90" y1="270.01" x2="419.90" y2="252.53" stroke="#000" stroke-width="2.9" />
<line x1="400.90" y1="282.46" x2="419.90" y2="264.98" stroke="#000" stroke-width="2.9" />
<line x1="400.90" y1="257.56" x2="419.90" y2="240.08" stroke="#000" stroke-width="2.9" />
</g>
<rect x="402.9" y="256.7" width="15" height="14.5" fill="none" stroke="#111" stroke-width="1.6"/>
<text x="425.50" y="268.50" font-size="16.5" text-anchor="start" font-style="italic" textLength="45.0" lengthAdjust="spacingAndGlyphs" >bax-/-</text>
<clipPath id="c14"><rect x="404" y="355.9" width="15.1" height="15.1"/></clipPath>
<rect x="404" y="355.9" width="15.1" height="15.1" fill="#fff"/>
<g clip-path="url(#c14)">
<line x1="402.00" y1="353.87" x2="421.10" y2="371.06" stroke="#111" stroke-width="1.2" />
<line x1="402.00" y1="366.32" x2="421.10" y2="383.51" stroke="#111" stroke-width="1.2" />
<line x1="402.00" y1="341.42" x2="421.10" y2="358.61" stroke="#111" stroke-width="1.2" />
</g>
<rect x="404" y="355.9" width="15.1" height="15.1" fill="none" stroke="#111" stroke-width="1.6"/>
<text x="426.80" y="368.60" font-size="16.5" text-anchor="start" font-style="italic" textLength="54.7" lengthAdjust="spacingAndGlyphs" >bcl-2-/-</text>
<clipPath id="c15"><rect x="404" y="381.7" width="15.1" height="14.6"/></clipPath>
<rect x="404" y="381.7" width="15.1" height="14.6" fill="#fff"/>
<g clip-path="url(#c15)">
<line x1="393.85" y1="368.90" x2="433.85" y2="408.90" stroke="#111" stroke-width="1.2" />
<line x1="393.85" y1="408.90" x2="433.85" y2="368.90" stroke="#111" stroke-width="1.2" />
<line x1="381.40" y1="368.90" x2="421.40" y2="408.90" stroke="#111" stroke-width="1.2" />
<line x1="381.40" y1="408.90" x2="421.40" y2="368.90" stroke="#111" stroke-width="1.2" />
<line x1="406.30" y1="368.90" x2="446.30" y2="408.90" stroke="#111" stroke-width="1.2" />
<line x1="406.30" y1="408.90" x2="446.30" y2="368.90" stroke="#111" stroke-width="1.2" />
</g>
<rect x="404" y="381.7" width="15.1" height="14.6" fill="none" stroke="#111" stroke-width="1.6"/>
<text x="426.80" y="393.80" font-size="16.5" text-anchor="start" font-style="italic" textLength="57.8" lengthAdjust="spacingAndGlyphs" >bcl-w-/-</text>
<line x1="50.80" y1="578.30" x2="354.10" y2="578.30" stroke="#2a2a2a" stroke-width="1" />
<line x1="354.10" y1="578.30" x2="354.10" y2="766.60" stroke="#555" stroke-width="1" />
<line x1="50.80" y1="578.30" x2="50.80" y2="765.20" stroke="#222" stroke-width="1" />
<line x1="50.80" y1="765.20" x2="354.10" y2="765.20" stroke="#111" stroke-width="1.2" />
<line x1="47.20" y1="765.20" x2="50.80" y2="765.20" stroke="#222" stroke-width="1" />
<line x1="48.80" y1="737.07" x2="50.80" y2="737.07" stroke="#444" stroke-width="0.8" />
<line x1="48.80" y1="720.61" x2="50.80" y2="720.61" stroke="#444" stroke-width="0.8" />
<line x1="48.80" y1="708.94" x2="50.80" y2="708.94" stroke="#444" stroke-width="0.8" />
<line x1="48.80" y1="699.88" x2="50.80" y2="699.88" stroke="#444" stroke-width="0.8" />
<line x1="48.80" y1="692.48" x2="50.80" y2="692.48" stroke="#444" stroke-width="0.8" />
<line x1="48.80" y1="686.23" x2="50.80" y2="686.23" stroke="#444" stroke-width="0.8" />
<line x1="48.80" y1="680.81" x2="50.80" y2="680.81" stroke="#444" stroke-width="0.8" />
<line x1="48.80" y1="676.03" x2="50.80" y2="676.03" stroke="#444" stroke-width="0.8" />
<line x1="47.20" y1="671.75" x2="50.80" y2="671.75" stroke="#222" stroke-width="1" />
<line x1="48.80" y1="643.62" x2="50.80" y2="643.62" stroke="#444" stroke-width="0.8" />
<line x1="48.80" y1="627.16" x2="50.80" y2="627.16" stroke="#444" stroke-width="0.8" />
<line x1="48.80" y1="615.49" x2="50.80" y2="615.49" stroke="#444" stroke-width="0.8" />
<line x1="48.80" y1="606.43" x2="50.80" y2="606.43" stroke="#444" stroke-width="0.8" />
<line x1="48.80" y1="599.03" x2="50.80" y2="599.03" stroke="#444" stroke-width="0.8" />
<line x1="48.80" y1="592.78" x2="50.80" y2="592.78" stroke="#444" stroke-width="0.8" />
<line x1="48.80" y1="587.36" x2="50.80" y2="587.36" stroke="#444" stroke-width="0.8" />
<line x1="48.80" y1="582.58" x2="50.80" y2="582.58" stroke="#444" stroke-width="0.8" />
<line x1="47.20" y1="578.30" x2="50.80" y2="578.30" stroke="#222" stroke-width="1" />
<text x="44.60" y="585.00" font-size="16" text-anchor="end" textLength="29.5" lengthAdjust="spacingAndGlyphs" >100</text>
<text x="45.20" y="677.80" font-size="16" text-anchor="end" textLength="18.8" lengthAdjust="spacingAndGlyphs" >10</text>
<text x="43.20" y="768.70" font-size="16" text-anchor="end" >1</text>
<text x="0.00" y="0.00" font-size="17" text-anchor="middle" textLength="99.5" lengthAdjust="spacingAndGlyphs" transform="translate(16.9,671.3) rotate(-90)">survival (%)</text>
<text x="0.20" y="561.30" font-size="35.6" text-anchor="start" textLength="26.2" lengthAdjust="spacingAndGlyphs" >C</text>
<text x="56.80" y="566.30" font-size="16" text-anchor="start" textLength="111.5" lengthAdjust="spacingAndGlyphs" >bone marrow</text>
<line x1="162.60" y1="762.60" x2="162.60" y2="767.80" stroke="#222" stroke-width="1.1" />
<text x="152.40" y="783.90" font-size="16.5" text-anchor="start" textLength="19.6" lengthAdjust="spacingAndGlyphs" >3d</text>
<line x1="233.40" y1="762.60" x2="233.40" y2="767.80" stroke="#222" stroke-width="1.1" />
<text x="224.20" y="783.90" font-size="16.5" text-anchor="start" textLength="19.1" lengthAdjust="spacingAndGlyphs" >5d</text>
<line x1="304.60" y1="762.60" x2="304.60" y2="767.80" stroke="#222" stroke-width="1.1" />
<text x="294.30" y="783.90" font-size="16.5" text-anchor="start" textLength="19.5" lengthAdjust="spacingAndGlyphs" >7d</text>
<text x="47.70" y="783.90" font-size="16.5" text-anchor="start" textLength="19.6" lengthAdjust="spacingAndGlyphs" >0d</text>
<polyline fill="none" stroke="#111" stroke-width="1.3" points="51.0,578.5 160.0,640.9 232.8,682.0 305.0,731.4"/>
<polyline fill="none" stroke="#111" stroke-width="1.3" points="51.0,578.5 160.0,590.3 232.8,608.0 305.0,634.4"/>
<polyline fill="none" stroke="#111" stroke-width="1.3" points="51.0,578.5 160.0,583.2 232.8,586.0 305.0,619.7"/>
<polyline fill="none" stroke="#111" stroke-width="1.3" points="51.0,578.5 160.0,582.8 232.8,585.6 305.0,606.2"/>
<line x1="160.00" y1="628.10" x2="160.00" y2="658.20" stroke="#111" stroke-width="1.3" />
<line x1="158.20" y1="628.10" x2="161.80" y2="628.10" stroke="#111" stroke-width="1.2" />
<line x1="158.20" y1="658.20" x2="161.80" y2="658.20" stroke="#111" stroke-width="1.2" />
<line x1="232.80" y1="668.60" x2="232.80" y2="700.80" stroke="#111" stroke-width="1.3" />
<line x1="231.00" y1="668.60" x2="234.60" y2="668.60" stroke="#111" stroke-width="1.2" />
<line x1="231.00" y1="700.80" x2="234.60" y2="700.80" stroke="#111" stroke-width="1.2" />
<line x1="305.00" y1="717.60" x2="305.00" y2="752.80" stroke="#111" stroke-width="1.3" />
<line x1="303.20" y1="717.60" x2="306.80" y2="717.60" stroke="#111" stroke-width="1.2" />
<line x1="303.20" y1="752.80" x2="306.80" y2="752.80" stroke="#111" stroke-width="1.2" />
<line x1="160.00" y1="585.50" x2="160.00" y2="594.60" stroke="#111" stroke-width="1.3" />
<line x1="158.20" y1="585.50" x2="161.80" y2="585.50" stroke="#111" stroke-width="1.2" />
<line x1="158.20" y1="594.60" x2="161.80" y2="594.60" stroke="#111" stroke-width="1.2" />
<line x1="232.80" y1="602.50" x2="232.80" y2="613.80" stroke="#111" stroke-width="1.3" />
<line x1="231.00" y1="602.50" x2="234.60" y2="602.50" stroke="#111" stroke-width="1.2" />
<line x1="231.00" y1="613.80" x2="234.60" y2="613.80" stroke="#111" stroke-width="1.2" />
<line x1="305.00" y1="629.50" x2="305.00" y2="639.50" stroke="#111" stroke-width="1.3" />
<line x1="303.20" y1="629.50" x2="306.80" y2="629.50" stroke="#111" stroke-width="1.2" />
<line x1="303.20" y1="639.50" x2="306.80" y2="639.50" stroke="#111" stroke-width="1.2" />
<line x1="305.00" y1="612.00" x2="305.00" y2="627.00" stroke="#111" stroke-width="1.3" />
<line x1="303.20" y1="612.00" x2="306.80" y2="612.00" stroke="#111" stroke-width="1.2" />
<line x1="303.20" y1="627.00" x2="306.80" y2="627.00" stroke="#111" stroke-width="1.2" />
<line x1="160.00" y1="578.60" x2="160.00" y2="586.00" stroke="#111" stroke-width="1.3" />
<line x1="158.20" y1="578.60" x2="161.80" y2="578.60" stroke="#111" stroke-width="1.2" />
<line x1="158.20" y1="586.00" x2="161.80" y2="586.00" stroke="#111" stroke-width="1.2" />
<rect x="156.50" y="637.40" width="7" height="7" fill="#fff" stroke="#111" stroke-width="1"/>
<rect x="229.30" y="678.50" width="7" height="7" fill="#fff" stroke="#111" stroke-width="1"/>
<rect x="301.50" y="727.90" width="7" height="7" fill="#fff" stroke="#111" stroke-width="1"/>
<rect x="156.40" y="586.70" width="7.2" height="7.2" fill="#000"/>
<rect x="229.20" y="604.40" width="7.2" height="7.2" fill="#000"/>
<rect x="301.40" y="630.80" width="7.2" height="7.2" fill="#000"/>
<circle cx="305" cy="619.7" r="3.7" fill="#fff" stroke="#111" stroke-width="1.1"/>
<circle cx="160" cy="582.8" r="4.1" fill="#000"/>
<circle cx="232.8" cy="585.6" r="4.1" fill="#000"/>
<circle cx="305" cy="606.2" r="4.1" fill="#000"/>
<rect x="47.1" y="574.9" width="7.4" height="7.3" fill="#000"/>
<line x1="374.50" y1="590.00" x2="374.50" y2="748.50" stroke="#111" stroke-width="1.6" />
<rect x="397.5" y="600.3" width="15.3" height="14" fill="#fff" stroke="#111" stroke-width="1.5"/>
<text x="419.00" y="611.00" font-size="16" text-anchor="start" textLength="17.8" lengthAdjust="spacingAndGlyphs" >wt</text>
<rect x="397" y="631.5" width="16" height="15.5" fill="#000"/>
<text x="419.00" y="643.80" font-size="16" text-anchor="start" textLength="85.6" lengthAdjust="spacingAndGlyphs" >wt + G-CSF</text>
<circle cx="405.5" cy="693" r="8.6" fill="#fff" stroke="#111" stroke-width="1.5"/>
<text x="419.00" y="696.00" font-size="16.5" text-anchor="start" font-style="italic" textLength="93.3" lengthAdjust="spacingAndGlyphs" >vav-bcl-2 tg</text>
<circle cx="405.5" cy="725.4" r="9.2" fill="#000"/>
<text x="419.00" y="723.80" font-size="16.5" text-anchor="start" font-style="italic" textLength="93.3" lengthAdjust="spacingAndGlyphs" >vav-bcl-2 tg</text>
<text x="419.00" y="740.00" font-size="16" text-anchor="start" textLength="64.0" lengthAdjust="spacingAndGlyphs" >+ G-CSF</text>
</svg>
</body></html>
